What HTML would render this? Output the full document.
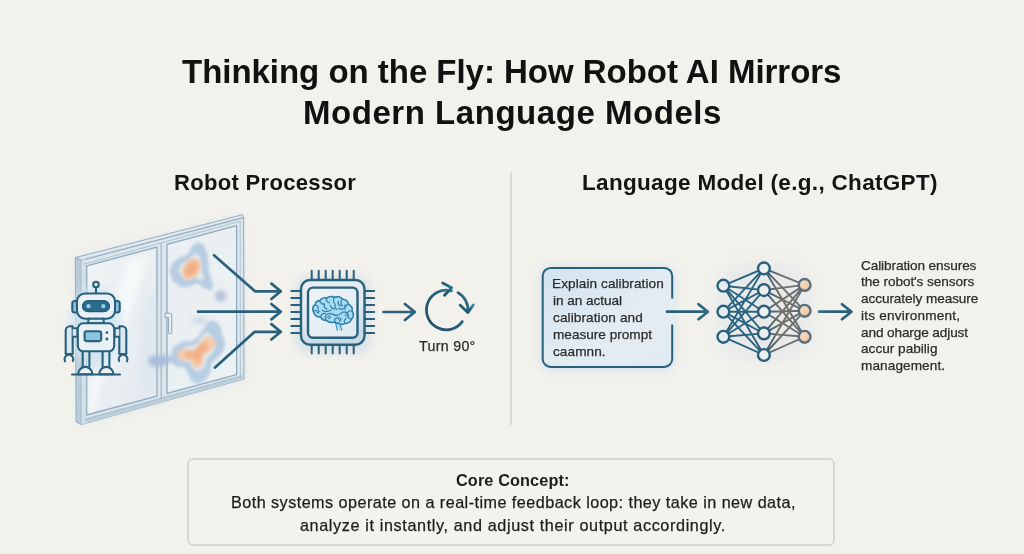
<!DOCTYPE html>
<html><head><meta charset="utf-8">
<style>
html,body{margin:0;padding:0;}
body{width:1024px;height:554px;overflow:hidden;background:#f2f1ec;position:relative;font-family:"Liberation Sans",sans-serif;color:#141414;}
.abs{position:absolute;white-space:nowrap;}
.t{font-weight:bold;font-size:33px;line-height:40px;color:#121212;}
.h{font-weight:bold;font-size:22px;line-height:24px;color:#151515;}
.s{font-size:14.5px;line-height:16.7px;color:#2c2c2c;white-space:nowrap;}
.c{font-size:17px;line-height:22.5px;color:#1c1c1c;}
.x{line-height:1;will-change:transform;}
.sm{-webkit-text-stroke:0.25px currentColor;}
</style></head><body>
<div class="abs" style="left:510.1px;top:171.5px;width:1.6px;height:253.5px;background:#dad8d1;"></div>
<div class="abs" id="core" style="left:187.2px;top:458.1px;width:644px;height:83.6px;border:2px solid #d8d6cf;border-radius:6px;background:#f3f2ed;"></div>
<svg class="abs" style="left:0;top:0" width="1024" height="554" viewBox="0 0 1024 554">
<defs>
<filter id="b1" x="-50%" y="-50%" width="200%" height="200%"><feGaussianBlur stdDeviation="1"/></filter>
<filter id="b15" x="-50%" y="-50%" width="200%" height="200%"><feGaussianBlur stdDeviation="1.500"/></filter>
<filter id="b2" x="-50%" y="-50%" width="200%" height="200%"><feGaussianBlur stdDeviation="2"/></filter>
<filter id="b3" x="-50%" y="-50%" width="200%" height="200%"><feGaussianBlur stdDeviation="3"/></filter>
<filter id="b5" x="-50%" y="-50%" width="200%" height="200%"><feGaussianBlur stdDeviation="5"/></filter>
<filter id="b8" x="-50%" y="-50%" width="200%" height="200%"><feGaussianBlur stdDeviation="8"/></filter>
<linearGradient id="gl" x1="0" y1="0" x2="1" y2="1"><stop offset="0" stop-color="#f0f3f4"/><stop offset="0.5" stop-color="#e9eef1"/><stop offset="1" stop-color="#e2eaef"/></linearGradient>
<linearGradient id="gr" x1="0" y1="0" x2="1" y2="1"><stop offset="0" stop-color="#e9eff2"/><stop offset="1" stop-color="#ecf1f3"/></linearGradient>
<linearGradient id="pb" x1="0" y1="0" x2="1" y2="1"><stop offset="0" stop-color="#d3e4f0"/><stop offset="0.6" stop-color="#e3ecf2"/><stop offset="1" stop-color="#e1ebf2"/></linearGradient>
<linearGradient id="rot" x1="0" y1="1" x2="1" y2="0"><stop offset="0" stop-color="#1f4e68"/><stop offset="0.6" stop-color="#27627f"/><stop offset="1" stop-color="#2f8fb4"/></linearGradient>
<linearGradient id="nnl" gradientUnits="userSpaceOnUse" x1="723" y1="0" x2="805" y2="0"><stop offset="0" stop-color="#256584"/><stop offset="0.45" stop-color="#2f5f78"/><stop offset="0.6" stop-color="#6d6f6c"/><stop offset="1" stop-color="#55707f"/></linearGradient>
<linearGradient id="nnr" gradientUnits="userSpaceOnUse" x1="764" y1="0" x2="805" y2="0"><stop offset="0" stop-color="#37607a"/><stop offset="0.45" stop-color="#776f66"/><stop offset="1" stop-color="#5f6f79"/></linearGradient>
<radialGradient id="org" cx="0.35" cy="0.3" r="0.8"><stop offset="0" stop-color="#f5dcc4"/><stop offset="1" stop-color="#f0c29a"/></radialGradient>
<linearGradient id="chipin" x1="0" y1="0" x2="1" y2="1"><stop offset="0" stop-color="#f0f4f6"/><stop offset="1" stop-color="#dde9f0"/></linearGradient>
<linearGradient id="chipout" x1="0" y1="0" x2="0.3" y2="1"><stop offset="0" stop-color="#e9f0f4"/><stop offset="0.6" stop-color="#dfe9ef"/><stop offset="1" stop-color="#c9dae5"/></linearGradient>
</defs>
<g id="window" stroke-linejoin="round">
<polygon points="74,257 243,213 246,380 80,427" fill="#e3e9ec" filter="url(#b5)" opacity="0.7"/>
<polygon points="75.400,257.600 81.400,260.300 81.400,424.500 76,421.500" fill="#b9ccd8" stroke="#98b3c4" stroke-width="1.100"/>
<polygon points="75.400,257.600 242.300,214.800 243.600,217.600 81.400,260.300" fill="#e1e9ee" stroke="#98b3c4" stroke-width="1.100"/>
<polygon points="81.400,260.300 243.600,217.600 244,379 81.400,424.500" fill="#dce6ec" stroke="#98b3c4" stroke-width="1.200"/>
<polygon points="81.400,424.500 244,379 244,374.500 81.400,419.500" fill="#bccfdb"/>
<polygon points="81.400,260.300 86,259 86,423 81.400,424.500" fill="#d3e0e8"/>
<polygon points="86.7,265.9 156.9,247.1 156.9,396.1 86.7,415.0" fill="url(#gl)" stroke="#8dabbe" stroke-width="1.300"/>
<polygon points="167.0,244.3 236.6,225.6 236.6,374.6 167.0,393.3" fill="url(#gr)" stroke="#8dabbe" stroke-width="1.300"/>
<line x1="161.200" y1="242.9" x2="161.200" y2="398.9" stroke="#98b3c4" stroke-width="1.100"/>
<line x1="240.200" y1="221.2" x2="240.400" y2="376.6" stroke="#a9c0ce" stroke-width="0.900"/>
<line x1="84" y1="264.2" x2="240.200" y2="221.2" stroke="#a9c0ce" stroke-width="0.900"/>
<line x1="84" y1="419.8" x2="240.400" y2="376.6" stroke="#a9c0ce" stroke-width="0.900"/>
<clipPath id="cl"><polygon points="87.5,266.5 156.1,248.1 156.1,395.5 87.5,414.0"/></clipPath>
<g clip-path="url(#cl)"><g filter="url(#b3)" opacity="0.9">
<polygon points="126,262 150,254 112,372 94,380" fill="#f7fafa"/>
<polygon points="90,378 104,374 95,412 88,416" fill="#f5f8fa"/>
<polygon points="146,300 158,292 158,384 138,394" fill="#dde7ee"/>
</g></g>
<path d="M165.200,313.300 h4.500 a2,2 0 0 1 2,2 v17 a1.600,1.600 0 0 1 -3.200,0 v-14.800 h-3.300 z" fill="#e9eff3" stroke="#93adbf" stroke-width="1.100"/>
</g>
<g id="heat">
<path d="M170.7,267.9 C173.0,262.6 171.9,263.3 177.5,258.8 C183.2,254.2 182.4,258.7 187.7,254.1 C193.0,249.6 188.8,248.5 193.4,245.1 C197.9,241.7 197.2,242.1 201.4,244.0 C205.6,245.8 203.7,245.1 206.0,250.8 C208.3,256.5 207.1,253.9 208.2,261.1 C209.3,268.3 207.8,263.7 209.3,272.4 C210.9,281.1 214.3,281.9 212.8,287.2 C211.3,292.5 210.2,289.5 204.8,288.4 C199.5,287.2 202.9,284.1 196.9,283.8 C190.8,283.4 193.4,287.2 186.6,287.2 C179.7,287.2 181.7,287.9 176.4,283.8 C171.1,279.6 172.6,280.0 170.7,274.7 C168.8,269.4 168.4,273.2 170.7,267.9 Z" fill="#b7cde2" filter="url(#b15)"/>
<path d="M179.6,267.9 C180.9,264.9 180.3,265.3 183.5,262.7 C186.8,260.1 186.3,262.7 189.3,260.1 C192.4,257.5 190.0,256.9 192.6,254.9 C195.2,253.0 194.7,253.2 197.1,254.3 C199.5,255.3 198.5,254.9 199.8,258.2 C201.1,261.4 200.4,259.9 201.0,264.0 C201.7,268.2 200.8,265.5 201.7,270.5 C202.6,275.5 204.5,275.9 203.7,279.0 C202.8,282.0 202.2,280.3 199.1,279.6 C196.1,279.0 198.0,277.2 194.6,277.0 C191.1,276.8 192.6,279.0 188.7,279.0 C184.8,279.0 185.9,279.4 182.9,277.0 C179.8,274.6 180.7,274.9 179.6,271.8 C178.5,268.8 178.3,271.0 179.6,267.9 Z" fill="#e2e9ec" filter="url(#b15)"/>
<ellipse cx="191.300" cy="268.800" rx="8" ry="11.500" transform="rotate(35 191.3 268.8)" fill="#f5cbae" filter="url(#b15)"/>
<ellipse cx="191.300" cy="269" rx="5.500" ry="8.500" transform="rotate(35 191.3 269)" fill="#f1ad82" filter="url(#b2)"/>
<circle cx="220.500" cy="296" r="5.500" fill="#b1c1d8" filter="url(#b2)"/>
<ellipse cx="200" cy="321" rx="9" ry="3" fill="#bccbdd" filter="url(#b3)" opacity="0.8"/>
<path d="M171.5,354.2 C173.0,346.7 171.9,347.8 179.4,343.0 C186.9,338.1 186.1,344.1 193.9,339.6 C201.8,335.1 197.7,335.5 203.0,329.4 C208.3,323.4 204.9,323.4 209.8,321.5 C214.6,319.7 213.5,319.7 217.7,323.8 C221.8,327.9 219.9,326.4 222.1,333.9 C224.4,341.4 225.6,338.8 224.4,346.3 C223.3,353.8 222.9,350.8 218.7,356.5 C214.5,362.1 214.9,358.0 211.9,363.2 C209.0,368.5 212.7,366.2 209.8,372.2 C206.8,378.2 208.3,377.8 203.0,381.2 C197.7,384.6 198.8,384.6 193.9,382.4 C189.1,380.1 191.7,379.4 188.3,374.5 C185.0,369.6 188.4,370.7 183.9,367.7 C179.3,364.7 178.9,369.9 174.8,365.4 C170.7,360.9 170.0,361.7 171.5,354.2 Z" fill="#b7cde2" filter="url(#b15)"/>
<path d="M148,358 C154,354 166,355 174,357 C172,365 158,369 149,365 Z" fill="#a9bedc" filter="url(#b2)"/>
<path d="M181.7,353.3 C182.6,348.7 181.9,349.4 186.5,346.4 C191.2,343.4 190.7,347.2 195.5,344.4 C200.3,341.6 197.8,341.8 201.1,338.1 C204.3,334.4 202.2,334.4 205.2,333.2 C208.2,332.1 207.6,332.1 210.1,334.7 C212.6,337.2 211.5,336.3 212.8,340.9 C214.2,345.5 215.0,343.9 214.3,348.5 C213.6,353.1 213.3,351.3 210.7,354.8 C208.2,358.2 208.4,355.7 206.6,358.9 C204.7,362.1 207.1,360.7 205.2,364.4 C203.4,368.1 204.3,367.9 201.1,370.0 C197.8,372.1 198.5,372.1 195.5,370.7 C192.5,369.3 194.1,368.8 192.0,365.8 C190.0,362.8 192.1,363.5 189.3,361.7 C186.5,359.8 186.3,363.0 183.7,360.3 C181.2,357.5 180.7,358.0 181.7,353.3 Z" fill="#e2e9ec" filter="url(#b15)"/>
<path d="M177.5,354.5 C177.2,350.7 178.2,350.8 182.0,349.5 C185.8,348.2 184.3,350.8 189.0,350.5 C193.7,350.2 191.7,351.8 196.0,348.5 C200.3,345.2 198.0,344.3 202.0,340.5 C206.0,336.7 204.0,337.3 208.0,337.0 C212.0,336.7 211.8,336.5 214.0,339.5 C216.2,342.5 216.2,342.0 214.5,346.0 C212.8,350.0 212.5,348.5 209.0,351.5 C205.5,354.5 206.0,351.5 204.0,355.0 C202.0,358.5 204.7,357.8 203.0,362.0 C201.3,366.2 202.2,366.2 199.0,367.5 C195.8,368.8 196.3,368.3 193.5,366.0 C190.7,363.7 194.0,362.2 190.5,360.5 C187.0,358.8 187.3,363.0 183.0,361.0 C178.7,359.0 177.8,358.3 177.5,354.5 Z" fill="#f5cbae" filter="url(#b15)"/>
<path d="M184.9,353.9 C184.7,351.6 185.3,351.7 187.7,350.8 C190.1,350.0 189.1,351.7 192.0,351.4 C194.9,351.2 193.7,352.3 196.4,350.2 C199.1,348.1 197.6,347.6 200.1,345.2 C202.6,342.9 201.3,343.3 203.8,343.1 C206.3,342.9 206.2,342.8 207.5,344.6 C208.9,346.5 208.9,346.2 207.8,348.7 C206.8,351.1 206.6,350.2 204.4,352.1 C202.3,353.9 202.6,352.1 201.3,354.2 C200.1,356.4 201.8,356.0 200.7,358.6 C199.7,361.2 200.2,361.2 198.2,362.0 C196.3,362.8 196.6,362.5 194.8,361.1 C193.1,359.6 195.1,358.7 193.0,357.6 C190.8,356.6 191.0,359.2 188.3,358.0 C185.6,356.7 185.1,356.3 184.9,353.9 Z" fill="#f1ad82" filter="url(#b2)"/>
</g>
<g id="robot" stroke-linecap="round" stroke-linejoin="round">
<ellipse cx="96" cy="328" rx="27" ry="42" fill="#d2e5f1" filter="url(#b5)" opacity="0.85"/>
<line x1="96" y1="287.500" x2="96" y2="293.500" stroke="#29607c" stroke-width="2.100"/>
<circle cx="96" cy="284.500" r="2.800" fill="#e8f1f6" stroke="#29607c" stroke-width="2.100"/>
<rect x="72.300" y="301" width="6" height="11.500" rx="2.500" fill="#8ec1dd" stroke="#29607c" stroke-width="2.100"/>
<rect x="113.700" y="301" width="6" height="11.500" rx="2.500" fill="#8ec1dd" stroke="#29607c" stroke-width="2.100"/>
<rect x="77" y="293.500" width="38" height="25.200" rx="8" fill="#e9f1f6" stroke="#29607c" stroke-width="2.100"/>
<rect x="82.500" y="300.700" width="27" height="11" rx="5.500" fill="#2a6a8a" stroke="#245873" stroke-width="1.2"/>
<circle cx="88.500" cy="306.200" r="2.100" fill="#8fd1ec"/><circle cx="103.300" cy="306.200" r="2.100" fill="#8fd1ec"/>
<rect x="88.300" y="318.700" width="15.400" height="4.600" fill="#dce9f1" stroke="#29607c" stroke-width="2.100"/>
<path d="M72.700,326.300 h-2.700 a4.300,4.300 0 0 0 -4.300,4.300 v23.400 h7 z" fill="#dbe8f0" stroke="#29607c" stroke-width="2.100"/>
<path d="M72.700,328.300 h4.800 v8.500 h-4.800" fill="#dbe8f0" stroke="#29607c" stroke-width="2.100"/>
<path d="M119.300,326.300 h2.700 a4.300,4.300 0 0 1 4.300,4.300 v23.400 h-7 z" fill="#dbe8f0" stroke="#29607c" stroke-width="2.100"/>
<path d="M119.300,328.300 h-4.800 v8.500 h4.800" fill="#dbe8f0" stroke="#29607c" stroke-width="2.100"/>
<path d="M65,361.200 a4.400,4.400 0 1 1 7.900,-0.200" fill="none" stroke="#29607c" stroke-width="2.100"/>
<path d="M119.100,361 a4.400,4.400 0 1 1 7.900,0.200" fill="none" stroke="#29607c" stroke-width="2.100"/>
<path d="M82.700,351 v16 M89.400,351 v16 M102.600,351 v16 M109.400,351 v16" fill="none" stroke="#29607c" stroke-width="2.100"/>
<rect x="77.800" y="323.300" width="36.400" height="28" rx="5.500" fill="#e9f1f6" stroke="#29607c" stroke-width="2.100"/>
<rect x="84.600" y="331.300" width="16.600" height="9.800" rx="2" fill="#8cc4e1" stroke="#29607c" stroke-width="2.100"/>
<circle cx="106.900" cy="332.600" r="1.400" fill="#29607c"/><circle cx="106.900" cy="339" r="1.400" fill="#29607c"/>
<path d="M78.300,374.200 a7,7.300 0 0 1 14,0 z" fill="#e9f1f6" stroke="#29607c" stroke-width="2.100"/>
<path d="M99.300,374.200 a7,7.300 0 0 1 14,0 z" fill="#e9f1f6" stroke="#29607c" stroke-width="2.100"/>
<line x1="72" y1="374.500" x2="120" y2="374.500" stroke="#29607c" stroke-width="2.100"/>
</g>
<g id="pbox">
<rect x="541" y="267" width="133" height="103" rx="9" fill="#cfe0ec" filter="url(#b5)" opacity="0.9"/>
<rect x="542.700" y="267.900" width="129.500" height="99" rx="8" fill="url(#pb)" stroke="#29607c" stroke-width="2"/>
<rect x="670.500" y="298.500" width="4" height="26" fill="#e5edf2"/>
</g>
<g id="arrows" fill="none" stroke="#29607c" stroke-width="2.700" stroke-linecap="round" stroke-linejoin="round">
<path d="M214,255.300 L255,291.300 H280 M271.4,283.6 L280.8,291.3 L271.4,299.0"/>
<path d="M198,311.700 H280 M271.4,304.0 L280.8,311.7 L271.4,319.4"/>
<path d="M215,367.500 L254.700,331.800 H280 M271.4,324.1 L280.8,331.8 L271.4,339.5"/>
<path d="M383.500,312 H414.2 M404.9,304.0 L414.9,312.0 L404.9,320.0"/>
<path d="M667,311.700 H707.500 M698.5,304.2 L708.0,311.7 L698.5,319.2"/>
<path d="M819,311.700 H851 M842.0,304.2 L851.5,311.7 L842.0,319.2"/>
</g>
<g id="chip">
<rect x="296" y="277" width="74" height="76" rx="12" fill="#d2dfe7" filter="url(#b5)" opacity="0.85"/>
<path d="M311.7,270.7 V279.5 M311.7,344.5 V353.5 M291.300,291.0 H300.500 M365,291.0 H374.200 M318.7,270.7 V279.5 M318.7,344.5 V353.5 M291.300,298.0 H300.500 M365,298.0 H374.200 M325.7,270.7 V279.5 M325.7,344.5 V353.5 M291.300,305.0 H300.500 M365,305.0 H374.200 M332.7,270.7 V279.5 M332.7,344.5 V353.5 M291.300,312.0 H300.500 M365,312.0 H374.200 M339.7,270.7 V279.5 M339.7,344.5 V353.5 M291.300,319.0 H300.500 M365,319.0 H374.200 M346.7,270.7 V279.5 M346.7,344.5 V353.5 M291.300,326.0 H300.500 M365,326.0 H374.200 M353.7,270.7 V279.5 M353.7,344.5 V353.5 M291.300,333.0 H300.500 M365,333.0 H374.200" stroke="#29607c" stroke-width="2" stroke-linecap="round" fill="none"/>
<rect x="301" y="280" width="63.500" height="64.800" rx="9" fill="url(#chipout)" stroke="#29607c" stroke-width="2.400"/>
<rect x="308" y="287.600" width="49.500" height="50.200" rx="5" fill="url(#chipin)" stroke="#29607c" stroke-width="2.400"/>
<g transform="translate(312.900,296.400)" stroke="#2b7ba3" stroke-width="1.500" fill="#a6dbf2" stroke-linecap="round" stroke-linejoin="round">
<path d="M22,24.500 C23.500,27 24,30.500 24.600,33.600 M26.300,25.500 C27,28.500 27.600,31 28.600,33.400" fill="none"/>
<path d="M22.300,25 C23.500,27.500 24,30.500 24.600,33.600 L28.600,33.400 C27.600,31 27,28.500 26.300,25.500 Z" stroke="none"/>
<path d="M0.300,14.500 C-0.800,12 0,9.200 2.300,8.400 C2.300,5.800 4.600,4 7,4.600 C8,2 11.200,0.600 13.700,1.800 C15.500,-0.300 19.500,-0.600 21.500,1 C24,-0.500 28,0.300 29.500,2.800 C32.500,2.600 35.500,5 35.700,8 C38.500,9 40,12 39.200,14.600 C41,16.500 41,20.500 38.800,22.500 C38,25.500 35,27.500 32,27 C30,28.300 27.500,28.200 26,26.800 C24.500,27.200 23,26.800 22,25.600 C19,26.600 15.500,26 13.500,24 C11,24 8.500,22.500 7.800,20.500 C4.500,21 1,19 0.300,14.500 Z"/>
<g fill="none" stroke-width="1.200" stroke="#2f7fa7">
<path d="M2.300,8.400 C4,9 5.500,10.500 5.300,12.500"/>
<path d="M7,4.600 C7.500,7 9.500,8 11.500,7.500 C11,10 12,12 14,12.500"/>
<path d="M13.700,1.800 C13.300,4 14.500,6 16.500,6.500"/>
<path d="M21.500,1 C20,3.500 20.500,6.500 22.500,8 C21.500,10 22,12 24,13"/>
<path d="M17.500,9 C18,11 19.500,12.500 21.500,12.500"/>
<path d="M29.500,2.800 C27.500,5 27.500,8 29.500,9.500"/>
<path d="M35.700,8 C33,8.500 31.500,10.500 32,13"/>
<path d="M25.500,5 C25,7 26,9 27.500,9.500"/>
<path d="M0.300,14.500 C2.500,13.500 5,14.500 5.500,16.500"/>
<path d="M7.800,20.500 C8,18 10,16.500 12.500,17"/>
<path d="M13.500,24 C11,21.500 12.500,17.500 16.500,17.300 C20,17 21.500,19.500 24.500,19 C27.500,18.500 28,15.500 31,15.500 C33.500,15.500 35,17 35,19"/>
<path d="M9.500,14 C12,16 16,15 18,13.500"/>
<path d="M22,25.600 C21,23.500 22,21.500 24.500,21.500 C27,21.500 28,23.500 27,25"/>
<path d="M39.200,14.600 C37,14 35,15 34.500,16.500"/>
<path d="M38.800,22.500 C36.500,22.500 35,21 35,19"/>
<path d="M32,27 C31,25 31.500,23 33,22"/>
<path d="M26,12 C27.500,13 29.500,13 31,12"/>
</g>
<g fill="#cdebf8" stroke-width="1" stroke="#2f7fa7"><circle cx="5" cy="15.200" r="1.200"/><circle cx="16" cy="20.800" r="1.300"/><circle cx="26.800" cy="22.800" r="1.200"/><circle cx="33.800" cy="18.800" r="1.300"/><circle cx="32.300" cy="9.500" r="1"/></g>
</g>
</g>
<g id="rotate" fill="none" stroke="url(#rot)" stroke-width="2.800" stroke-linecap="round" stroke-linejoin="round">
<path d="M462.3,321.6 A19.8,19.8 0 1 1 451.4,290.9"/>
<path d="M442.700,283 L451.700,287.700 L444.500,295.300"/>
<path d="M458,292.600 A19.8,19.8 0 0 1 467.900,312"/>
<path d="M460.200,305.200 L467.900,312.400 L473.300,305"/>
</g>
<g id="nn">
<rect x="716" y="262" width="96" height="100" rx="30" fill="#e4e8ea" filter="url(#b8)" opacity="0.7"/>
<path d="M723.4,285.7 L763.9,268.4 M723.4,285.7 L763.9,290.1 M723.4,285.7 L763.9,311.7 M723.4,285.7 L763.9,333.4 M723.4,285.7 L763.9,355.0 M723.4,311.7 L763.9,268.4 M723.4,311.7 L763.9,290.1 M723.4,311.7 L763.9,311.7 M723.4,311.7 L763.9,333.4 M723.4,311.7 L763.9,355.0 M723.4,336.8 L763.9,268.4 M723.4,336.8 L763.9,290.1 M723.4,336.8 L763.9,311.7 M723.4,336.8 L763.9,333.4 M723.4,336.8 L763.9,355.0" stroke="#2a6481" stroke-width="1.900" fill="none"/>
<path d="M763.9,268.4 L804.6,284.9 M763.9,268.4 L804.6,310.8 M763.9,268.4 L804.6,336.8 M763.9,290.1 L804.6,284.9 M763.9,290.1 L804.6,310.8 M763.9,290.1 L804.6,336.8 M763.9,311.7 L804.6,284.9 M763.9,311.7 L804.6,310.8 M763.9,311.7 L804.6,336.8 M763.9,333.4 L804.6,284.9 M763.9,333.4 L804.6,310.8 M763.9,333.4 L804.6,336.8 M763.9,355.0 L804.6,284.9 M763.9,355.0 L804.6,310.8 M763.9,355.0 L804.6,336.8" stroke="url(#nnr)" stroke-width="1.900" fill="none"/>
<circle cx="723.4" cy="285.7" r="5.900" fill="#e6edf1" stroke="#28607d" stroke-width="2.400"/>
<circle cx="723.4" cy="311.7" r="5.900" fill="#e6edf1" stroke="#28607d" stroke-width="2.400"/>
<circle cx="723.4" cy="336.8" r="5.900" fill="#e6edf1" stroke="#28607d" stroke-width="2.400"/>
<circle cx="763.9" cy="268.4" r="5.900" fill="#ecefef" stroke="#2c5f7a" stroke-width="2.400"/>
<circle cx="763.9" cy="290.1" r="5.900" fill="#ecefef" stroke="#2c5f7a" stroke-width="2.400"/>
<circle cx="763.9" cy="311.7" r="5.900" fill="#ecefef" stroke="#2c5f7a" stroke-width="2.400"/>
<circle cx="763.9" cy="333.4" r="5.900" fill="#ecefef" stroke="#2c5f7a" stroke-width="2.400"/>
<circle cx="763.9" cy="355.0" r="5.900" fill="#ecefef" stroke="#2c5f7a" stroke-width="2.400"/>
<circle cx="804.6" cy="284.9" r="5.900" fill="url(#org)" stroke="#58707d" stroke-width="2.400"/>
<circle cx="804.6" cy="310.8" r="5.900" fill="url(#org)" stroke="#58707d" stroke-width="2.400"/>
<circle cx="804.6" cy="336.8" r="5.900" fill="url(#org)" stroke="#58707d" stroke-width="2.400"/>
</g>
</svg>
<div class="abs x" id="t1" style="left:181.70px;top:55.47px;font-size:33px;font-weight:bold;letter-spacing:-0.028px;color:#111111;">Thinking on the Fly: How Robot AI Mirrors</div>
<div class="abs x" id="t2" style="left:303.00px;top:95.57px;font-size:33px;font-weight:bold;letter-spacing:0.54px;color:#111111;">Modern Language Models</div>
<div class="abs x" id="h1" style="left:173.80px;top:171.58px;font-size:22px;font-weight:bold;letter-spacing:0.322px;color:#141414;">Robot Processor</div>
<div class="abs x" id="h2" style="left:582.00px;top:171.75px;font-size:22.5px;font-weight:bold;letter-spacing:0.319px;color:#141414;">Language Model (e.g., ChatGPT)</div>
<div class="abs x sm" id="p10" style="left:551.90px;top:277.49px;font-size:13.6px;font-weight:normal;letter-spacing:0.08px;color:#2b2b2b;">Explain calibration</div>
<div class="abs x sm" id="p11" style="left:552.90px;top:293.99px;font-size:13.6px;font-weight:normal;letter-spacing:-0.055px;color:#2b2b2b;">in an actual</div>
<div class="abs x sm" id="p12" style="left:552.90px;top:310.79px;font-size:13.6px;font-weight:normal;letter-spacing:0.096px;color:#2b2b2b;">calibration and</div>
<div class="abs x sm" id="p13" style="left:552.90px;top:327.79px;font-size:13.6px;font-weight:normal;letter-spacing:0.0px;color:#2b2b2b;">measure prompt</div>
<div class="abs x sm" id="p14" style="left:552.90px;top:344.59px;font-size:13.6px;font-weight:normal;letter-spacing:0.073px;color:#2b2b2b;">caamnn.</div>
<div class="abs x sm" id="p20" style="left:860.70px;top:258.59px;font-size:13.6px;font-weight:normal;letter-spacing:-0.096px;color:#2b2b2b;">Calibration ensures</div>
<div class="abs x sm" id="p21" style="left:860.70px;top:275.39px;font-size:13.6px;font-weight:normal;letter-spacing:-0.063px;color:#2b2b2b;">the robot's sensors</div>
<div class="abs x sm" id="p22" style="left:860.70px;top:292.19px;font-size:13.6px;font-weight:normal;letter-spacing:-0.074px;color:#2b2b2b;">accurately measure</div>
<div class="abs x sm" id="p23" style="left:860.70px;top:308.89px;font-size:13.6px;font-weight:normal;letter-spacing:0.208px;color:#2b2b2b;">its environment,</div>
<div class="abs x sm" id="p24" style="left:860.70px;top:325.89px;font-size:13.6px;font-weight:normal;letter-spacing:-0.11px;color:#2b2b2b;">and oharge adjust</div>
<div class="abs x sm" id="p25" style="left:860.70px;top:342.49px;font-size:13.6px;font-weight:normal;letter-spacing:0.012px;color:#2b2b2b;">accur pabilig</div>
<div class="abs x sm" id="p26" style="left:860.70px;top:359.09px;font-size:13.6px;font-weight:normal;letter-spacing:0.095px;color:#2b2b2b;">management.</div>
<div class="abs x sm" id="turn" style="left:419.20px;top:338.68px;font-size:14.2px;font-weight:normal;letter-spacing:0.319px;color:#2b2b2b;">Turn 90°</div>
<div class="abs x" id="c1" style="left:456.40px;top:472.30px;font-size:16.3px;font-weight:bold;letter-spacing:0.105px;color:#1d1d1d;">Core Concept:</div>
<div class="abs x sm" id="c2" style="left:230.60px;top:494.19px;font-size:16.2px;font-weight:normal;letter-spacing:0.454px;color:#1d1d1d;">Both systems operate on a real-time feedback loop: they take in new data,</div>
<div class="abs x sm" id="c3" style="left:300.10px;top:516.79px;font-size:16.2px;font-weight:normal;letter-spacing:0.621px;color:#1d1d1d;">analyze it instantly, and adjust their output accordingly.</div>
</body></html>
